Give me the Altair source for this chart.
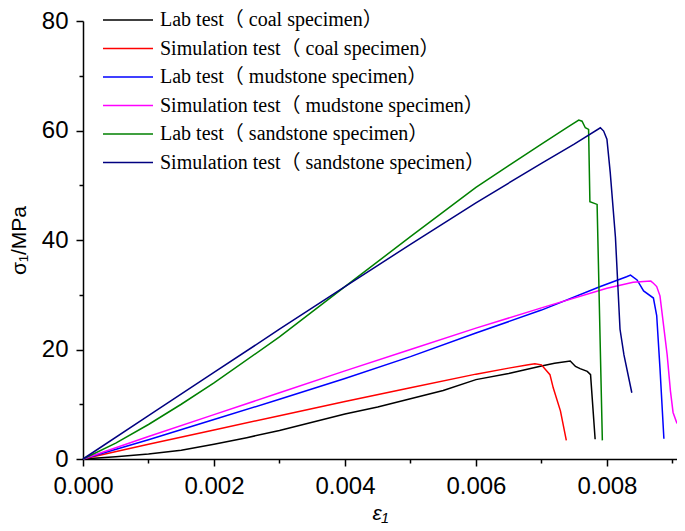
import altair as alt
import pandas as pd

names = [
    "Lab test（ coal specimen）",
    "Simulation test（ coal specimen）",
    "Lab test（ mudstone specimen）",
    "Simulation test（ mudstone specimen）",
    "Lab test（ sandstone specimen）",
    "Simulation test（ sandstone specimen）",
]
colors = ["#000000", "#ff0000", "#0000ff", "#ff00ff", "#008000", "#000080"]

coal_lab_x = [0, 0.0005, 0.001, 0.0015, 0.002, 0.0025, 0.003, 0.0035, 0.004, 0.0045, 0.005, 0.0055,
              0.006, 0.0065, 0.007, 0.0072, 0.00744, 0.00752, 0.00759, 0.0077, 0.00775, 0.00782]
coal_lab_y = [0, 0.4, 0.9, 1.6, 2.7, 3.9, 5.2, 6.7, 8.2, 9.5, 11.0, 12.5,
              14.5, 15.6, 17.0, 17.5, 17.9, 16.9, 16.5, 16.0, 15.4, 3.6]

coal_sim_x = [0, 0.001, 0.002, 0.003, 0.004, 0.005, 0.006, 0.0065, 0.0068, 0.0069, 0.0070,
              0.00713, 0.00718, 0.00729, 0.00738]
coal_sim_y = [0, 2.7, 5.3, 7.9, 10.5, 13.0, 15.5, 16.6, 17.2, 17.4, 17.2, 15.4, 13.0, 8.8, 3.4]

mud_lab_x = [0, 0.001, 0.002, 0.003, 0.004, 0.005, 0.006, 0.007, 0.0079, 0.0083, 0.00836, 0.00846,
             0.00856, 0.00871, 0.00876, 0.00881, 0.00887]
mud_lab_y = [0, 3.5, 7.2, 10.9, 14.7, 18.7, 23.0, 27.2, 31.5, 33.3, 33.6, 32.7, 30.7, 29.4, 26.2, 16.6, 3.7]

mud_sim_x = [0, 0.001, 0.002, 0.003, 0.004, 0.005, 0.006, 0.007, 0.008, 0.0084, 0.00867, 0.00871,
             0.00876, 0.00881, 0.00892, 0.00897, 0.00901, 0.00907]
mud_sim_y = [0, 4.1, 8.1, 12.1, 16.1, 20.0, 23.9, 27.6, 31.2, 32.3, 32.5, 32.1, 31.5, 29.8, 19.0, 12.4, 8.5, 6.5]

sand_lab_x = [0, 0.0005, 0.001, 0.0015, 0.002, 0.003, 0.004, 0.005, 0.006, 0.0065, 0.007, 0.0074,
              0.00757, 0.00762, 0.00767, 0.00772, 0.00774, 0.00785, 0.00793]
sand_lab_y = [0, 2.9, 6.3, 10.0, 13.9, 22.3, 31.5, 40.6, 49.6, 53.6, 57.5, 60.6,
              61.9, 61.7, 60.5, 60.2, 47.0, 46.5, 3.4]

sand_sim_x = [0, 0.001, 0.002, 0.003, 0.004, 0.005, 0.006, 0.007, 0.0075, 0.0079, 0.00795, 0.008,
              0.00805, 0.00813, 0.0082, 0.00826, 0.00838]
sand_sim_y = [0, 7.9, 15.8, 23.7, 31.5, 39.2, 46.8, 54.0, 57.5, 60.5, 59.9, 58.4,
              52.4, 40.5, 23.7, 19.0, 12.1]

# ticks every 0.001 / 10 (majors get labels and longer ticks)
x_ticks = [0, 0.001, 0.002, 0.003, 0.004, 0.005, 0.006, 0.007, 0.008, 0.009]
y_ticks = [0, 10, 20, 30, 40, 50, 60, 70, 80]

series = [
    (names[0], coal_lab_x, coal_lab_y),
    (names[1], coal_sim_x, coal_sim_y),
    (names[2], mud_lab_x, mud_lab_y),
    (names[3], mud_sim_x, mud_sim_y),
    (names[4], sand_lab_x, sand_lab_y),
    (names[5], sand_sim_x, sand_sim_y),
]
rows = []
for name, xs, ys in series:
    for i, (a, b) in enumerate(zip(xs, ys)):
        rows.append({"series": name, "strain": a, "stress": b, "idx": i})
df = pd.DataFrame(rows)

axis_common = dict(
    domainColor="black", domainWidth=1.5, tickColor="black", tickWidth=1.5,
    labelFont="Liberation Sans", labelFontSize=24, labelColor="black", grid=False,
    labelFlush=False, labelOverlap=False,
)

x_major_test = "round(datum.value * 1000) % 2 == 0"
y_major_test = "round(datum.value) % 20 == 0"

xscale = alt.Scale(domain=[0, 0.00907], nice=False, zero=False)
yscale = alt.Scale(domain=[0, 80], nice=False)

chart = alt.Chart(df).mark_line(strokeWidth=1.5).encode(
    x=alt.X("strain:Q", scale=xscale,
            axis=alt.Axis(values=x_ticks,
                          labelExpr=f"{x_major_test} ? format(datum.value, '.3f') : ''",
                          tickSize={"condition": {"test": x_major_test, "value": 7}, "value": 4},
                          labelPadding=8,
                          orient="bottom", title="ε₁", titleFont="Liberation Sans",
                          titleFontSize=21, titleFontStyle="italic", titleFontWeight="normal",
                          titleColor="black", titlePadding=4, **axis_common)),
    y=alt.Y("stress:Q", scale=yscale,
            axis=alt.Axis(values=y_ticks,
                          labelExpr=f"{y_major_test} ? format(datum.value, 'd') : ''",
                          tickSize={"condition": {"test": y_major_test, "value": 7}, "value": 4},
                          labelPadding=8,
                          orient="left", title="σ₁/MPa", titleFont="Liberation Sans",
                          titleFontSize=21, titleFontWeight="normal", titleColor="black",
                          titlePadding=12, **axis_common)),
    color=alt.Color("series:N", scale=alt.Scale(domain=names, range=colors),
                    legend=alt.Legend(title=None, orient="none", legendX=35, legendY=-11,
                                      symbolType="M-5,0H5", symbolSize=100,
                                      symbolStrokeWidth=1.5,
                                      labelFont="Liberation Serif, Noto Sans CJK TC",
                                      labelFontSize=20, labelColor="black", labelOffset=22,
                                      rowPadding=8.5, padding=0, labelLimit=600)),
    order=alt.Order("idx:Q"),
).properties(
    width=594, height=438,
    autosize=alt.AutoSizeParams(type="none"),
    padding={"left": 75, "top": 13, "right": 0, "bottom": 64},
).configure_view(strokeWidth=0)

chart.save("out.html", embed_options={"renderer": "svg", "actions": False})
